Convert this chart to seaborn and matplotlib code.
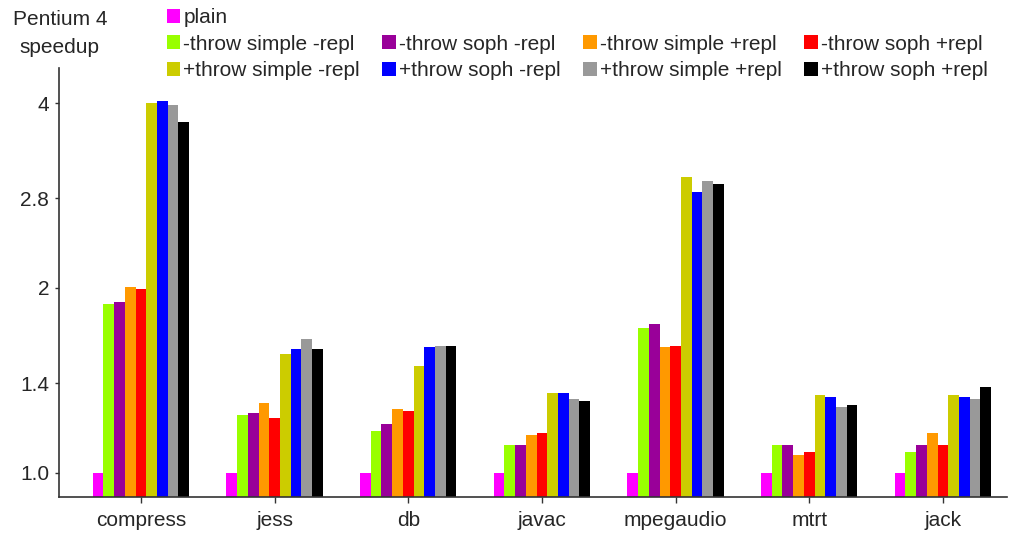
import pandas as pd
import matplotlib
matplotlib.use('Agg')
import matplotlib.pyplot as plt
import seaborn as sns
from matplotlib.patches import Patch

benchmarks = ['compress', 'jess', 'db', 'javac', 'mpegaudio', 'mtrt', 'jack']
configs = ['plain',
           '-throw simple -repl', '-throw soph -repl', '-throw simple +repl', '-throw soph +repl',
           '+throw simple -repl', '+throw soph -repl', '+throw simple +repl', '+throw soph +repl']
colors = ['#ff00ff', '#99ff00', '#990099', '#ff9900', '#ff0000',
          '#cccc00', '#0000ff', '#999999', '#000000']

# speedup per benchmark, one list per configuration
plain = [1.00, 1.00, 1.00, 1.00, 1.00, 1.00, 1.00]
t_simple_r = [1.88, 1.24, 1.17, 1.11, 1.72, 1.11, 1.08]
t_soph_r = [1.90, 1.25, 1.20, 1.11, 1.75, 1.11, 1.11]
t_simple_R = [2.01, 1.30, 1.27, 1.15, 1.60, 1.07, 1.16]
t_soph_R = [1.99, 1.23, 1.26, 1.16, 1.61, 1.08, 1.11]
T_simple_r = [4.01, 1.56, 1.49, 1.35, 3.03, 1.34, 1.34]
T_soph_r = [4.04, 1.59, 1.60, 1.35, 2.87, 1.33, 1.33]
T_simple_R = [3.98, 1.65, 1.61, 1.32, 2.99, 1.28, 1.32]
T_soph_R = [3.73, 1.59, 1.61, 1.31, 2.95, 1.29, 1.38]

series = [plain, t_simple_r, t_soph_r, t_simple_R, t_soph_R,
          T_simple_r, T_soph_r, T_simple_R, T_soph_R]

rows = []
for cfg, vals in zip(configs, series):
    for b, v in zip(benchmarks, vals):
        rows.append({'benchmark': b, 'config': cfg, 'speedup': v})
df = pd.DataFrame(rows)

sns.set_style('ticks')
plt.rcParams['font.family'] = ['Liberation Sans', 'DejaVu Sans']

fig = plt.figure(figsize=(10.13, 5.35), dpi=100)
ax = fig.add_axes([0.0582, 0.071, 0.9358, 0.802])

sns.barplot(data=df, x='benchmark', y='speedup', hue='config', hue_order=configs,
            order=benchmarks, palette=colors, saturation=1, width=0.72, gap=0,
            linewidth=0, legend=False, ax=ax)

ax.set_yscale('log')
ax.set_ylim(0.913, 4.566)
ax.set_xlim(-0.613, 6.479)
ticks = [1.0, 1.4, 2, 2.8, 4]
ax.set_yticks(ticks)
ax.set_yticklabels(['1.0', '1.4', '2', '2.8', '4'])
ax.minorticks_off()
ax.tick_params(axis='y', labelsize=15, length=3, width=1, color='#333333', pad=4)
ax.tick_params(axis='x', labelsize=15, length=4, width=1, color='#333333', pad=6)
ax.set_xlabel('')
ax.set_ylabel('')
for s in ['top', 'right']:
    ax.spines[s].set_visible(False)
for s in ['left', 'bottom']:
    ax.spines[s].set_color('#333333')
    ax.spines[s].set_linewidth(1.2)

fig.text(0.059, 0.938, 'Pentium 4\nspeedup', ha='center', va='center',
         fontsize=15, linespacing=1.6)

# legend: plain alone on the first row, then two rows of four
handles = [Patch(facecolor=c, edgecolor='none') for c in colors]
blank = Patch(facecolor='none', edgecolor='none')
order_h = [handles[0], handles[1], handles[5],
           blank, handles[2], handles[6],
           blank, handles[3], handles[7],
           blank, handles[4], handles[8]]
order_l = [configs[0], configs[1], configs[5],
           '', configs[2], configs[6],
           '', configs[3], configs[7],
           '', configs[4], configs[8]]
fig.legend(order_h, order_l, ncol=4, loc='upper left', bbox_to_anchor=(0.150, 1.012),
           frameon=False, fontsize=15, handlelength=0.65, handleheight=0.65,
           handletextpad=0.15, columnspacing=1.08, labelspacing=0.36, borderpad=0.2)

fig.savefig('out.png', dpi=100)
